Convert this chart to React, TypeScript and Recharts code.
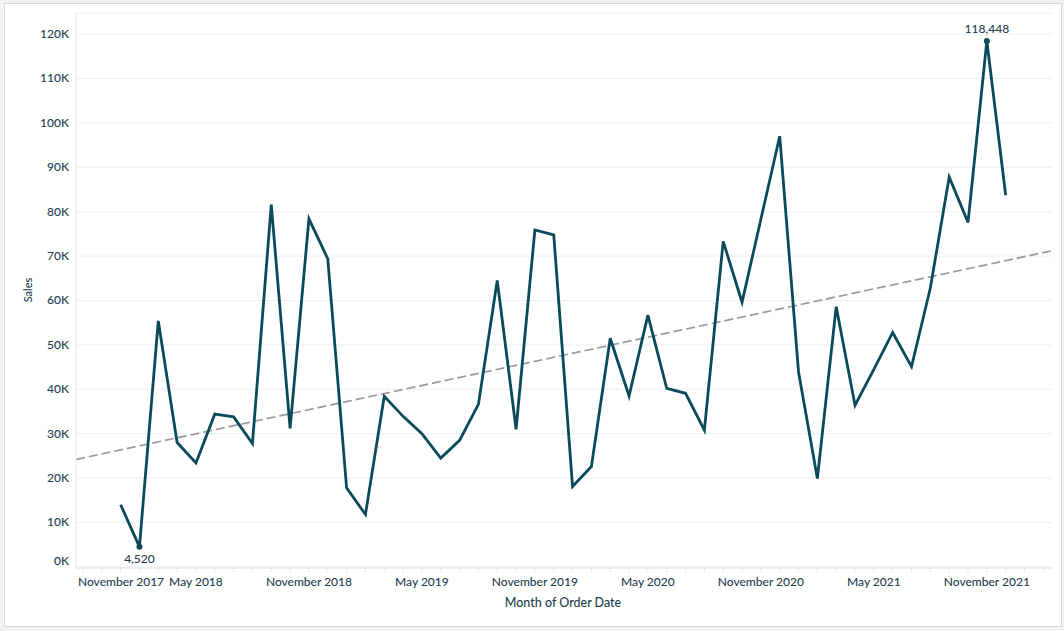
import { LineChart, Line, XAxis, YAxis, CartesianGrid, ReferenceLine } from "recharts";

// monthly sales, Jan 2018 .. Dec 2021
const months = [
  "Jan 2018", "Feb 2018", "Mar 2018", "Apr 2018", "May 2018", "Jun 2018",
  "Jul 2018", "Aug 2018", "Sep 2018", "Oct 2018", "Nov 2018", "Dec 2018",
  "Jan 2019", "Feb 2019", "Mar 2019", "Apr 2019", "May 2019", "Jun 2019",
  "Jul 2019", "Aug 2019", "Sep 2019", "Oct 2019", "Nov 2019", "Dec 2019",
  "Jan 2020", "Feb 2020", "Mar 2020", "Apr 2020", "May 2020", "Jun 2020",
  "Jul 2020", "Aug 2020", "Sep 2020", "Oct 2020", "Nov 2020", "Dec 2020",
  "Jan 2021", "Feb 2021", "Mar 2021", "Apr 2021", "May 2021", "Jun 2021",
  "Jul 2021", "Aug 2021", "Sep 2021", "Oct 2021", "Nov 2021", "Dec 2021",
];

const sales = [
  14000, 4520, 55400, 28000, 23400, 34400, 33800, 27800, 81600, 31200, 78400, 69400,
  17800, 11800, 38400, 33900, 30000, 24500, 28500, 36600, 64500, 31000, 75900, 74800,
  18100, 22600, 51500, 38500, 56700, 40200, 39100, 30800, 73300, 59600, 78300, 97000,
  43900, 19900, 58600, 36400, 44500, 52800, 45100, 62800, 87800, 77600, 118448, 83700,
];

// month index 0 = Jan 2018
const xDomain = [-2.37, 49.46];
const monthTicks = Array.from({ length: 52 }, (_, i) => i - 2);
const xTickLabels: Record<number, string> = {
  [-2]: "November 2017",
  4: "May 2018",
  10: "November 2018",
  16: "May 2019",
  22: "November 2019",
  28: "May 2020",
  34: "November 2020",
  40: "May 2021",
  46: "November 2021",
};

const yTicks = [0, 10000, 20000, 30000, 40000, 50000, 60000, 70000, 80000, 90000, 100000, 110000, 120000];
const yDomain = [-250, 124750];

// trend line values at the left and right edge of the axis
const trendValues = [24200, 71200];

const data = sales.map((v, i) => ({ m: i, month: months[i], sales: v }));

const TEXT = "#1f3e4f";
const LINE = "#0b4a5a";
const FONT = "Lato, 'Open Sans', sans-serif";

const maxVal = Math.max(...sales);
const minVal = Math.min(...sales);

function XTick(props: any) {
  const { x, payload } = props;
  const v = payload.value;
  const label = xTickLabels[v];
  const first = v === -2;
  return (
    <g>
      <line x1={x} x2={x} y1={568} y2={572} stroke="#e6e6e6" />
      {label && (
        <text
          x={first ? x - 5 : x}
          y={586}
          textAnchor={first ? "start" : "middle"}
          fill={TEXT}
          fontSize={12}
          fontWeight={500}
          fontFamily={FONT}
        >
          {label}
        </text>
      )}
    </g>
  );
}

function YTick(props: any) {
  const { y, payload } = props;
  const v = payload.value;
  return (
    <text
      x={69}
      y={v === 0 ? y - 6 : y}
      dy={4}
      textAnchor="end"
      fill={TEXT}
      fontSize={12}
      fontWeight={500}
      fontFamily={FONT}
    >
      {v / 1000 + "K"}
    </text>
  );
}

function EndDot(props: any) {
  const { cx, cy, value, index } = props;
  if (value !== maxVal && value !== minVal) return <g key={index} />;
  const above = value === maxVal;
  return (
    <g key={index}>
      <circle cx={cx} cy={cy} r={3} fill={LINE} />
      <text
        x={cx}
        y={above ? cy - 8 : cy + 16}
        textAnchor="middle"
        fill={TEXT}
        fontSize={12}
        fontWeight={500}
        fontFamily={FONT}
      >
        {value.toLocaleString("en-US")}
      </text>
    </g>
  );
}

export default function App() {
  return (
    <div style={{ position: "absolute", left: 0, top: 0, width: 1064, height: 631, background: "#f2f2f2" }}>
      <div
        style={{
          position: "absolute",
          left: 4,
          top: 3,
          width: 1056,
          height: 622,
          background: "#fff",
          border: "1px solid #d8d8d8",
        }}
      />
      <div style={{ position: "absolute", left: 0, top: 0 }}>
        <LineChart
          width={1064}
          height={631}
          data={data}
          margin={{ top: 13, right: 12, bottom: 13, left: 20 }}
        >
          <CartesianGrid vertical={false} stroke="#efefef" />
          <XAxis
            dataKey="m"
            type="number"
            domain={xDomain}
            ticks={monthTicks}
            allowDataOverflow
            interval={0}
            height={50}
            tickSize={0}
            tickLine={false}
            stroke="#e6e6e6"
            tick={<XTick />}
            label={{
              content: () => (
                <text x={563} y={607} textAnchor="middle" fill={TEXT} fontSize={12.5} fontWeight={500} fontFamily={FONT}>
                  Month of Order Date
                </text>
              ),
            }}
          />
          <YAxis
            type="number"
            domain={yDomain}
            ticks={yTicks}
            allowDataOverflow
            width={56}
            tickSize={0}
            tickLine={false}
            stroke="#e6e6e6"
            tick={<YTick />}
            interval={0}
            label={{
              content: () => (
                <text
                  x={32}
                  y={290}
                  transform="rotate(-90 32 290)"
                  textAnchor="middle"
                  fill={TEXT}
                  fontSize={11}
                  fontWeight={500}
                  fontFamily={FONT}
                >
                  Sales
                </text>
              ),
            }}
          />
          <ReferenceLine
            segment={[
              { x: xDomain[0], y: trendValues[0] },
              { x: xDomain[1], y: trendValues[1] },
            ]}
            stroke="#9a9a9a"
            strokeWidth={1.7}
            strokeDasharray="9 4"
            ifOverflow="visible"
          />
          <Line
            type="linear"
            dataKey="sales"
            stroke={LINE}
            strokeWidth={2.8}
            dot={<EndDot />}
            activeDot={false}
            isAnimationActive={false}
          />
        </LineChart>
      </div>
    </div>
  );
}
